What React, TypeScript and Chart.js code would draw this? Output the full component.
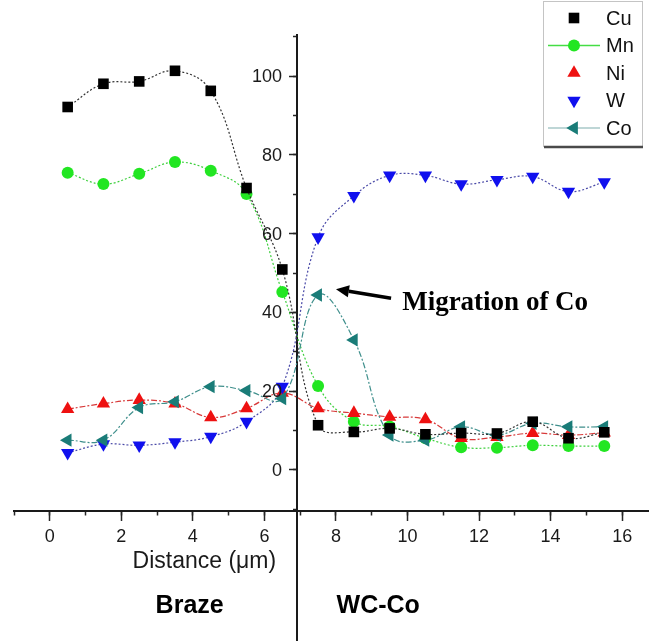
import React, { useEffect, useRef } from 'react';
import { Chart, registerables } from 'chart.js';

Chart.register(...registerables);

// ---------- data ----------
const distance = [0.5, 1.5, 2.5, 3.5, 4.5, 5.5, 6.5, 7.5, 8.5, 9.5, 10.5, 11.5, 12.5, 13.5, 14.5, 15.5];
const cuValues = [92.2, 98.1, 98.7, 101.4, 96.3, 71.6, 50.9, 11.3, 9.6, 10.5, 9.0, 9.3, 9.2, 12.2, 8.0, 9.5];
const mnValues = [75.5, 72.6, 75.2, 78.2, 76.0, 70.1, 45.2, 21.3, 12.2, 11.0, 8.0, 5.7, 5.6, 6.2, 6.0, 6.0];
const niValues = [15.4, 16.8, 17.7, 16.8, 13.3, 15.6, 19.5, 15.6, 14.4, 13.4, 12.8, 8.0, 8.3, 9.3, 8.8, 9.4];
const wValues = [4.3, 6.5, 6.2, 7.0, 8.4, 12.2, 21.1, 59.1, 69.6, 74.8, 74.8, 72.6, 73.7, 74.5, 70.7, 73.1];
const coValues = [7.5, 7.5, 15.8, 17.3, 21.1, 20.1, 18.1, 44.4, 33.0, 8.8, 7.5, 10.9, 8.8, 11.8, 10.9, 10.9];
const seriesNames = ['Cu', 'Mn', 'Ni', 'W', 'Co'];

const xRange = [-1, 16.75];
const yRange = [-10.5, 110.5];
const xMajorStep = 2;
const yMajorStep = 20;
const interfaceAt = 6.9; // distance where the y axis / interface line sits

const xTitle = 'Distance (μm)';
const leftRegion = 'Braze';
const rightRegion = 'WC-Co';
const noteText = 'Migration of Co';

const FONT = '"Liberation Sans", Arial, sans-serif';

const toXY = (vals: number[]) => vals.map((v, i) => ({ x: distance[i], y: v }));

type Style = {
  color: string;
  line: string;
  dash: number[];
  style: string;
  rotation: number;
  radius: number;
  legendLine?: string;
};
const styles: Style[] = [
  { color: '#000000', line: '#333333', dash: [2, 2], style: 'rect', rotation: 0, radius: 7.5 },
  { color: '#22e622', line: '#3ccf3c', dash: [2, 2], style: 'circle', rotation: 0, radius: 6, legendLine: '#44dd44' },
  { color: '#ee1111', line: '#d83a3a', dash: [6, 2, 2, 2], style: 'triangle', rotation: 0, radius: 7.7 },
  { color: '#1010ee', line: '#4a4aa8', dash: [2, 2], style: 'triangle', rotation: 180, radius: 7.7 },
  { color: '#1a7c78', line: '#3f8f8c', dash: [6, 2, 2, 2], style: 'triangle', rotation: -90, radius: 7.7, legendLine: '#a8c8c8' },
];
const seriesValues = [cuValues, mnValues, niValues, wValues, coValues];

function drawMarker(ctx: CanvasRenderingContext2D, s: Style, x: number, y: number) {
  ctx.fillStyle = s.color;
  ctx.beginPath();
  if (s.style === 'rect') {
    const h = s.radius * Math.SQRT1_2;
    ctx.rect(x - h, y - h, 2 * h, 2 * h);
  } else if (s.style === 'circle') {
    ctx.arc(x, y, s.radius, 0, Math.PI * 2);
  } else {
    let rad = (s.rotation * Math.PI) / 180;
    for (let k = 0; k < 3; k++) {
      const px = x + Math.sin(rad) * s.radius;
      const py = y - Math.cos(rad) * s.radius;
      if (k === 0) ctx.moveTo(px, py);
      else ctx.lineTo(px, py);
      rad += (2 * Math.PI) / 3;
    }
    ctx.closePath();
  }
  ctx.fill();
}

const overlayPlugin = {
  id: 'overlay',
  afterDraw(chart: any) {
    const { ctx, chartArea, scales } = chart;
    const xs = scales.x;
    const ys = scales.y;
    ctx.save();

    const ax = Math.round(xs.getPixelForValue(interfaceAt));

    // y tick labels (left of the interface axis)
    ctx.fillStyle = '#1a1a1a';
    ctx.font = `18px ${FONT}`;
    ctx.textAlign = 'right';
    ctx.textBaseline = 'middle';
    ys.ticks.forEach((t: any) => {
      ctx.fillText(String(t.value), ax - 15, ys.getPixelForValue(t.value) + 1);
    });

    // interface line continuing below the x axis
    ctx.strokeStyle = '#1a1a1a';
    ctx.lineWidth = 2;
    ctx.beginPath();
    ctx.moveTo(ax, chartArea.bottom);
    ctx.lineTo(ax, chart.height);
    ctx.stroke();

    // x axis title
    ctx.fillStyle = '#1a1a1a';
    ctx.font = `23px ${FONT}`;
    ctx.textAlign = 'center';
    ctx.textBaseline = 'alphabetic';
    ctx.fillText(xTitle, xs.getPixelForValue(4.32), 568);

    // region labels
    ctx.fillStyle = '#000';
    ctx.font = `bold 25px ${FONT}`;
    ctx.fillText(leftRegion, xs.getPixelForValue(3.91), 613);
    ctx.fillText(rightRegion, xs.getPixelForValue(9.18), 613);

    // annotation arrow
    const tipX = xs.getPixelForValue(8.0);
    const tipY = ys.getPixelForValue(45.9);
    const tailX = xs.getPixelForValue(9.54);
    const tailY = ys.getPixelForValue(43.6);
    const ang = Math.atan2(tipY - tailY, tipX - tailX);
    const headLen = 13;
    const headW = 6;
    const bx = tipX - Math.cos(ang) * headLen;
    const by = tipY - Math.sin(ang) * headLen;
    ctx.strokeStyle = '#000';
    ctx.lineWidth = 3.5;
    ctx.beginPath();
    ctx.moveTo(tailX, tailY);
    ctx.lineTo(bx, by);
    ctx.stroke();
    ctx.fillStyle = '#000';
    ctx.beginPath();
    ctx.moveTo(tipX, tipY);
    ctx.lineTo(bx + Math.sin(ang) * headW, by - Math.cos(ang) * headW);
    ctx.lineTo(bx - Math.sin(ang) * headW, by + Math.cos(ang) * headW);
    ctx.closePath();
    ctx.fill();

    ctx.font = 'bold 27px "Liberation Serif", "Times New Roman", serif';
    ctx.textAlign = 'left';
    ctx.fillText(noteText, xs.getPixelForValue(9.85), ys.getPixelForValue(40.6));

    // legend
    const lx = 543;
    const ly = 1;
    const lw = 99;
    const lh = 145;
    ctx.fillStyle = '#ffffff';
    ctx.fillRect(lx, ly, lw, lh);
    ctx.strokeStyle = '#c4c4c4';
    ctx.lineWidth = 1;
    ctx.strokeRect(lx + 0.5, ly + 0.5, lw, lh);
    ctx.strokeStyle = '#4a4a4a';
    ctx.lineWidth = 2.5;
    ctx.beginPath();
    ctx.moveTo(lx + 1, ly + lh + 1);
    ctx.lineTo(lx + lw + 1, ly + lh + 1);
    ctx.stroke();

    ctx.font = `20px ${FONT}`;
    ctx.textBaseline = 'middle';
    ctx.textAlign = 'left';
    chart.data.datasets.forEach((ds: any, i: number) => {
      const s = styles[i];
      const cy = 18 + i * 27.5;
      if (s.legendLine) {
        ctx.strokeStyle = s.legendLine;
        ctx.lineWidth = 1.5;
        ctx.beginPath();
        ctx.moveTo(548, cy);
        ctx.lineTo(600, cy);
        ctx.stroke();
      }
      drawMarker(ctx, s, 574, cy);
      ctx.fillStyle = '#111';
      ctx.fillText(ds.label, 606, cy + 1);
    });

    ctx.restore();
  },
};

const noPadding = (scale: any) => {
  scale.paddingLeft = 0;
  scale.paddingRight = 0;
  scale.paddingTop = 0;
  scale.paddingBottom = 0;
};

export default function App() {
  const ref = useRef<HTMLCanvasElement>(null);
  useEffect(() => {
    document.body.style.margin = '0';
    document.body.style.overflow = 'hidden';
    const datasets = seriesNames.map((name, i) => {
      const s = styles[i];
      return {
        label: name,
        data: toXY(seriesValues[i]),
        borderColor: s.line,
        borderWidth: 1.2,
        borderDash: s.dash,
        tension: 0.4,
        fill: false,
        pointStyle: s.style,
        pointRotation: s.rotation,
        pointRadius: s.radius,
        pointHoverRadius: s.radius,
        pointBackgroundColor: s.color,
        pointBorderColor: s.color,
        pointBorderWidth: 0,
        order: i === 0 ? 0 : 5 - i,
      };
    });

    const tickColor = '#262626';
    const chart = new Chart(ref.current as HTMLCanvasElement, {
      type: 'line',
      data: { datasets },
      plugins: [overlayPlugin],
      options: {
        animation: false,
        responsive: false,
        devicePixelRatio: 1,
        layout: { autoPadding: false, padding: { top: 35, left: 14, right: 0, bottom: 130 } },
        plugins: { legend: { display: false }, tooltip: { enabled: false } },
        scales: {
          x: {
            type: 'linear',
            position: { y: yRange[0] } as any,
            min: xRange[0],
            max: xRange[1],
            afterFit: noPadding,
            grid: { drawOnChartArea: false, drawTicks: true, tickLength: 9, tickWidth: 1.5, tickColor },
            border: { display: true, color: '#1a1a1a', width: 2 },
            ticks: {
              stepSize: xMajorStep,
              includeBounds: false,
              autoSkip: false,
              maxRotation: 0,
              padding: 6,
              color: '#1a1a1a',
              font: { family: FONT, size: 18 },
            },
          },
          x2: {
            type: 'linear',
            axis: 'x',
            display: true,
            position: { y: yRange[0] } as any,
            min: xRange[0],
            max: xRange[1],
            afterFit: noPadding,
            grid: { drawOnChartArea: false, drawTicks: true, tickLength: 4.5, tickWidth: 1.5, tickColor },
            border: { display: false },
            ticks: { stepSize: 1, includeBounds: false, display: false },
          },
          y: {
            type: 'linear',
            position: { x: interfaceAt } as any,
            min: yRange[0],
            max: yRange[1],
            afterFit: noPadding,
            grid: { drawOnChartArea: false, drawTicks: true, tickLength: 7, tickWidth: 1.5, tickColor },
            border: { display: true, color: '#1a1a1a', width: 2 },
            ticks: {
              stepSize: yMajorStep,
              includeBounds: false,
              display: false,
            },
          },
          y2: {
            type: 'linear',
            axis: 'y',
            display: true,
            position: { x: interfaceAt } as any,
            min: yRange[0],
            max: yRange[1],
            afterFit: noPadding,
            grid: { drawOnChartArea: false, drawTicks: true, tickLength: 4, tickWidth: 1.5, tickColor },
            border: { display: false },
            ticks: { stepSize: 10, includeBounds: false, display: false },
          },
        },
      } as any,
    });
    return () => chart.destroy();
  }, []);
  return (
    <div style={{ width: 649, height: 641 }}>
      <canvas ref={ref} width={649} height={641} style={{ display: 'block' }} />
    </div>
  );
}
